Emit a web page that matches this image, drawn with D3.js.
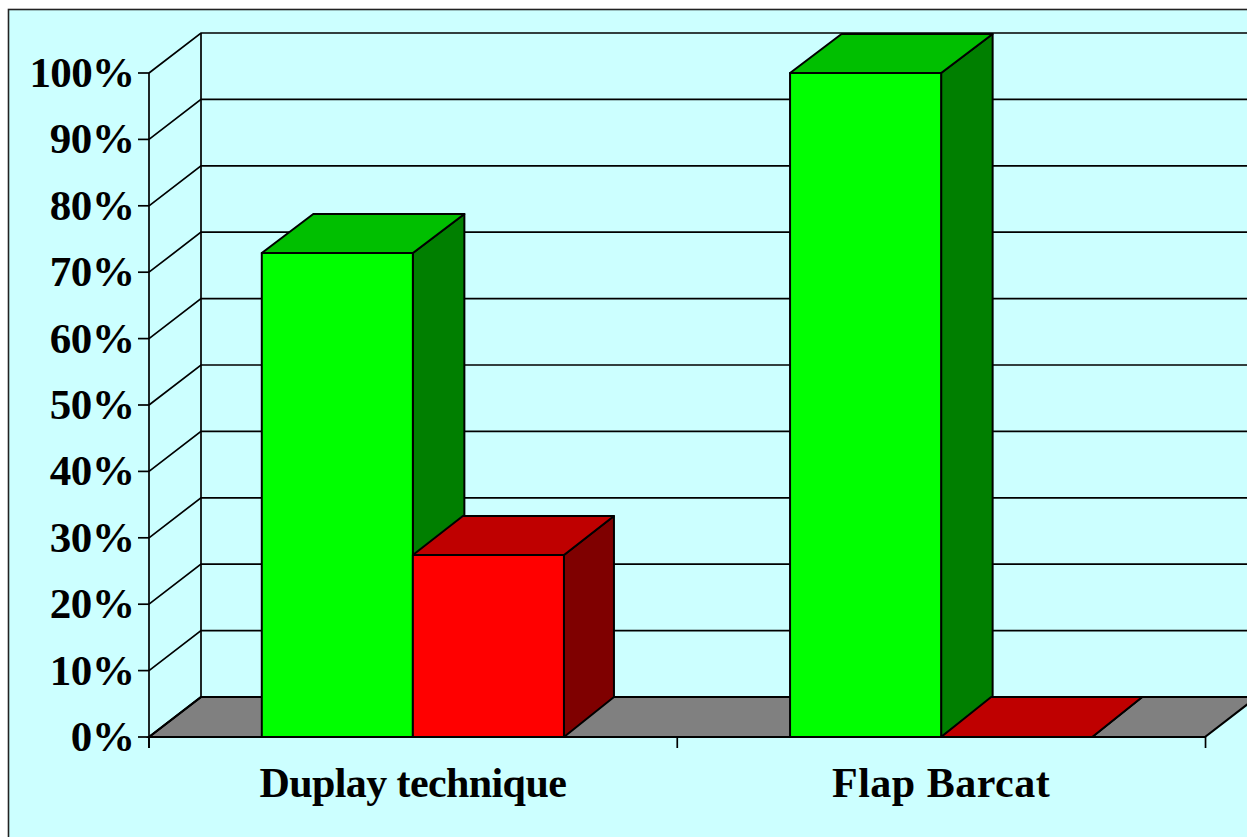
<!DOCTYPE html>
<html><head><meta charset="utf-8">
<script src="https://cdn.jsdelivr.net/npm/d3@7"></script>
<style>html,body{margin:0;padding:0;background:#fff;overflow:hidden}svg{display:block}</style>
</head><body><svg id="c" width="1247" height="837"></svg>
<script>
const categories = ["Duplay technique", "Flap Barcat"];
const seriesNames = ["Success", "Failure"];
const successValues = [72.9, 100];
const failureValues = [27.4, 0];
const yTicks = [0,10,20,30,40,50,60,70,80,90,100];

const svg = d3.select("#c");
const ink = "#000";
const depthX = 52, depthY = -40;
const barDepthX = {Success:51.5, Failure:50};
const x = d3.scaleBand().domain(categories).range([149,1205]).paddingInner(0.428).paddingOuter(0.2135);
const xs = d3.scaleBand().domain(seriesNames).range([0,x.bandwidth()]);
const y = d3.scaleLinear().domain([0,100]).range([737,73]);
const pts = a => a.map(p=>p.join(",")).join(" ");

svg.append("rect").attr("x",8.5).attr("y",9.5).attr("width",1300).attr("height",900)
  .attr("fill","#CCFFFF").attr("stroke","#222").attr("stroke-width",1.6);

// floor
svg.append("polygon").attr("points",pts([[149,y(0)],[149+depthX,y(0)+depthY],[1205+depthX,y(0)+depthY],[1205,y(0)]]))
  .attr("fill","#808080").attr("stroke",ink).attr("stroke-width",2.2);

// walls and gridlines
yTicks.forEach(t=>{
  svg.append("polyline").attr("fill","none").attr("stroke",ink)
    .attr("stroke-width",t===0?2.2:1.7)
    .attr("points",pts([[149,y(t)],[149+depthX,y(t)+depthY],[1205+depthX,y(t)+depthY]]));
});
svg.append("line").attr("x1",149+depthX).attr("x2",149+depthX).attr("y1",y(100)+depthY).attr("y2",y(0)+depthY).attr("stroke",ink).attr("stroke-width",1.7);

// bars
const colours = {
  Success:{front:"#00FF00",top:"#00BF00",side:"#007F00"},
  Failure:{front:"#FF0000",top:"#BF0000",side:"#7F0000"}
};
const bars = [];
categories.forEach((c,i)=>{
  bars.push({c,s:"Success",v:successValues[i]});
  bars.push({c,s:"Failure",v:failureValues[i]});
});
const poly = (p,fill)=>svg.append("polygon").attr("points",pts(p)).attr("fill",fill)
  .attr("stroke",ink).attr("stroke-width",2).attr("stroke-linejoin","round");
bars.forEach(b=>{
  const x0 = x(b.c)+xs(b.s), x1 = x0+xs.bandwidth(), yt = y(b.v), yb = y(0), col = colours[b.s];
  const dx = barDepthX[b.s], dy = b.v>0 ? -39 : depthY;
  poly([[x1,yb],[x1+dx,yb+depthY],[x1+dx,yt+dy],[x1,yt]],col.side);
  poly([[x0,yt],[x0+dx,yt+dy],[x1+dx,yt+dy],[x1,yt]],col.top);
  if(b.v>0) poly([[x0,yt],[x1,yt],[x1,yb],[x0,yb]],col.front);
});

// axes
svg.append("line").attr("x1",149).attr("x2",1205).attr("y1",y(0)).attr("y2",y(0)).attr("stroke",ink).attr("stroke-width",2.2);
svg.append("line").attr("x1",149).attr("x2",149).attr("y1",y(100)).attr("y2",748).attr("stroke",ink).attr("stroke-width",1.7);
const font = "'Liberation Serif','Times New Roman',serif";
yTicks.forEach(t=>{
  svg.append("line").attr("x1",138).attr("x2",149).attr("y1",y(t)).attr("y2",y(t)).attr("stroke",ink).attr("stroke-width",1.7);
  svg.append("text").attr("x",134.5).attr("y",y(t)+14).attr("text-anchor","end")
    .attr("font-family",font).attr("font-weight","bold").attr("font-size",43)
    .attr("fill",ink).attr("letter-spacing",t===100?-0.6:-0.4).text(t+"%");
});
const step = x.step();
[0,1,2].forEach(i=>{
  const xp = 149+i*step;
  svg.append("line").attr("x1",xp).attr("x2",xp).attr("y1",y(0)).attr("y2",748).attr("stroke",ink).attr("stroke-width",1.7);
});
const labelSpacing = [-0.6, 0.5];
categories.forEach((c,i)=>{
  svg.append("text").attr("x",x(c)+x.bandwidth()/2).attr("y",797).attr("text-anchor","middle")
    .attr("font-family",font).attr("font-weight","bold").attr("font-size",42).attr("letter-spacing",labelSpacing[i]).attr("fill",ink).text(c);
});
</script></body></html>
